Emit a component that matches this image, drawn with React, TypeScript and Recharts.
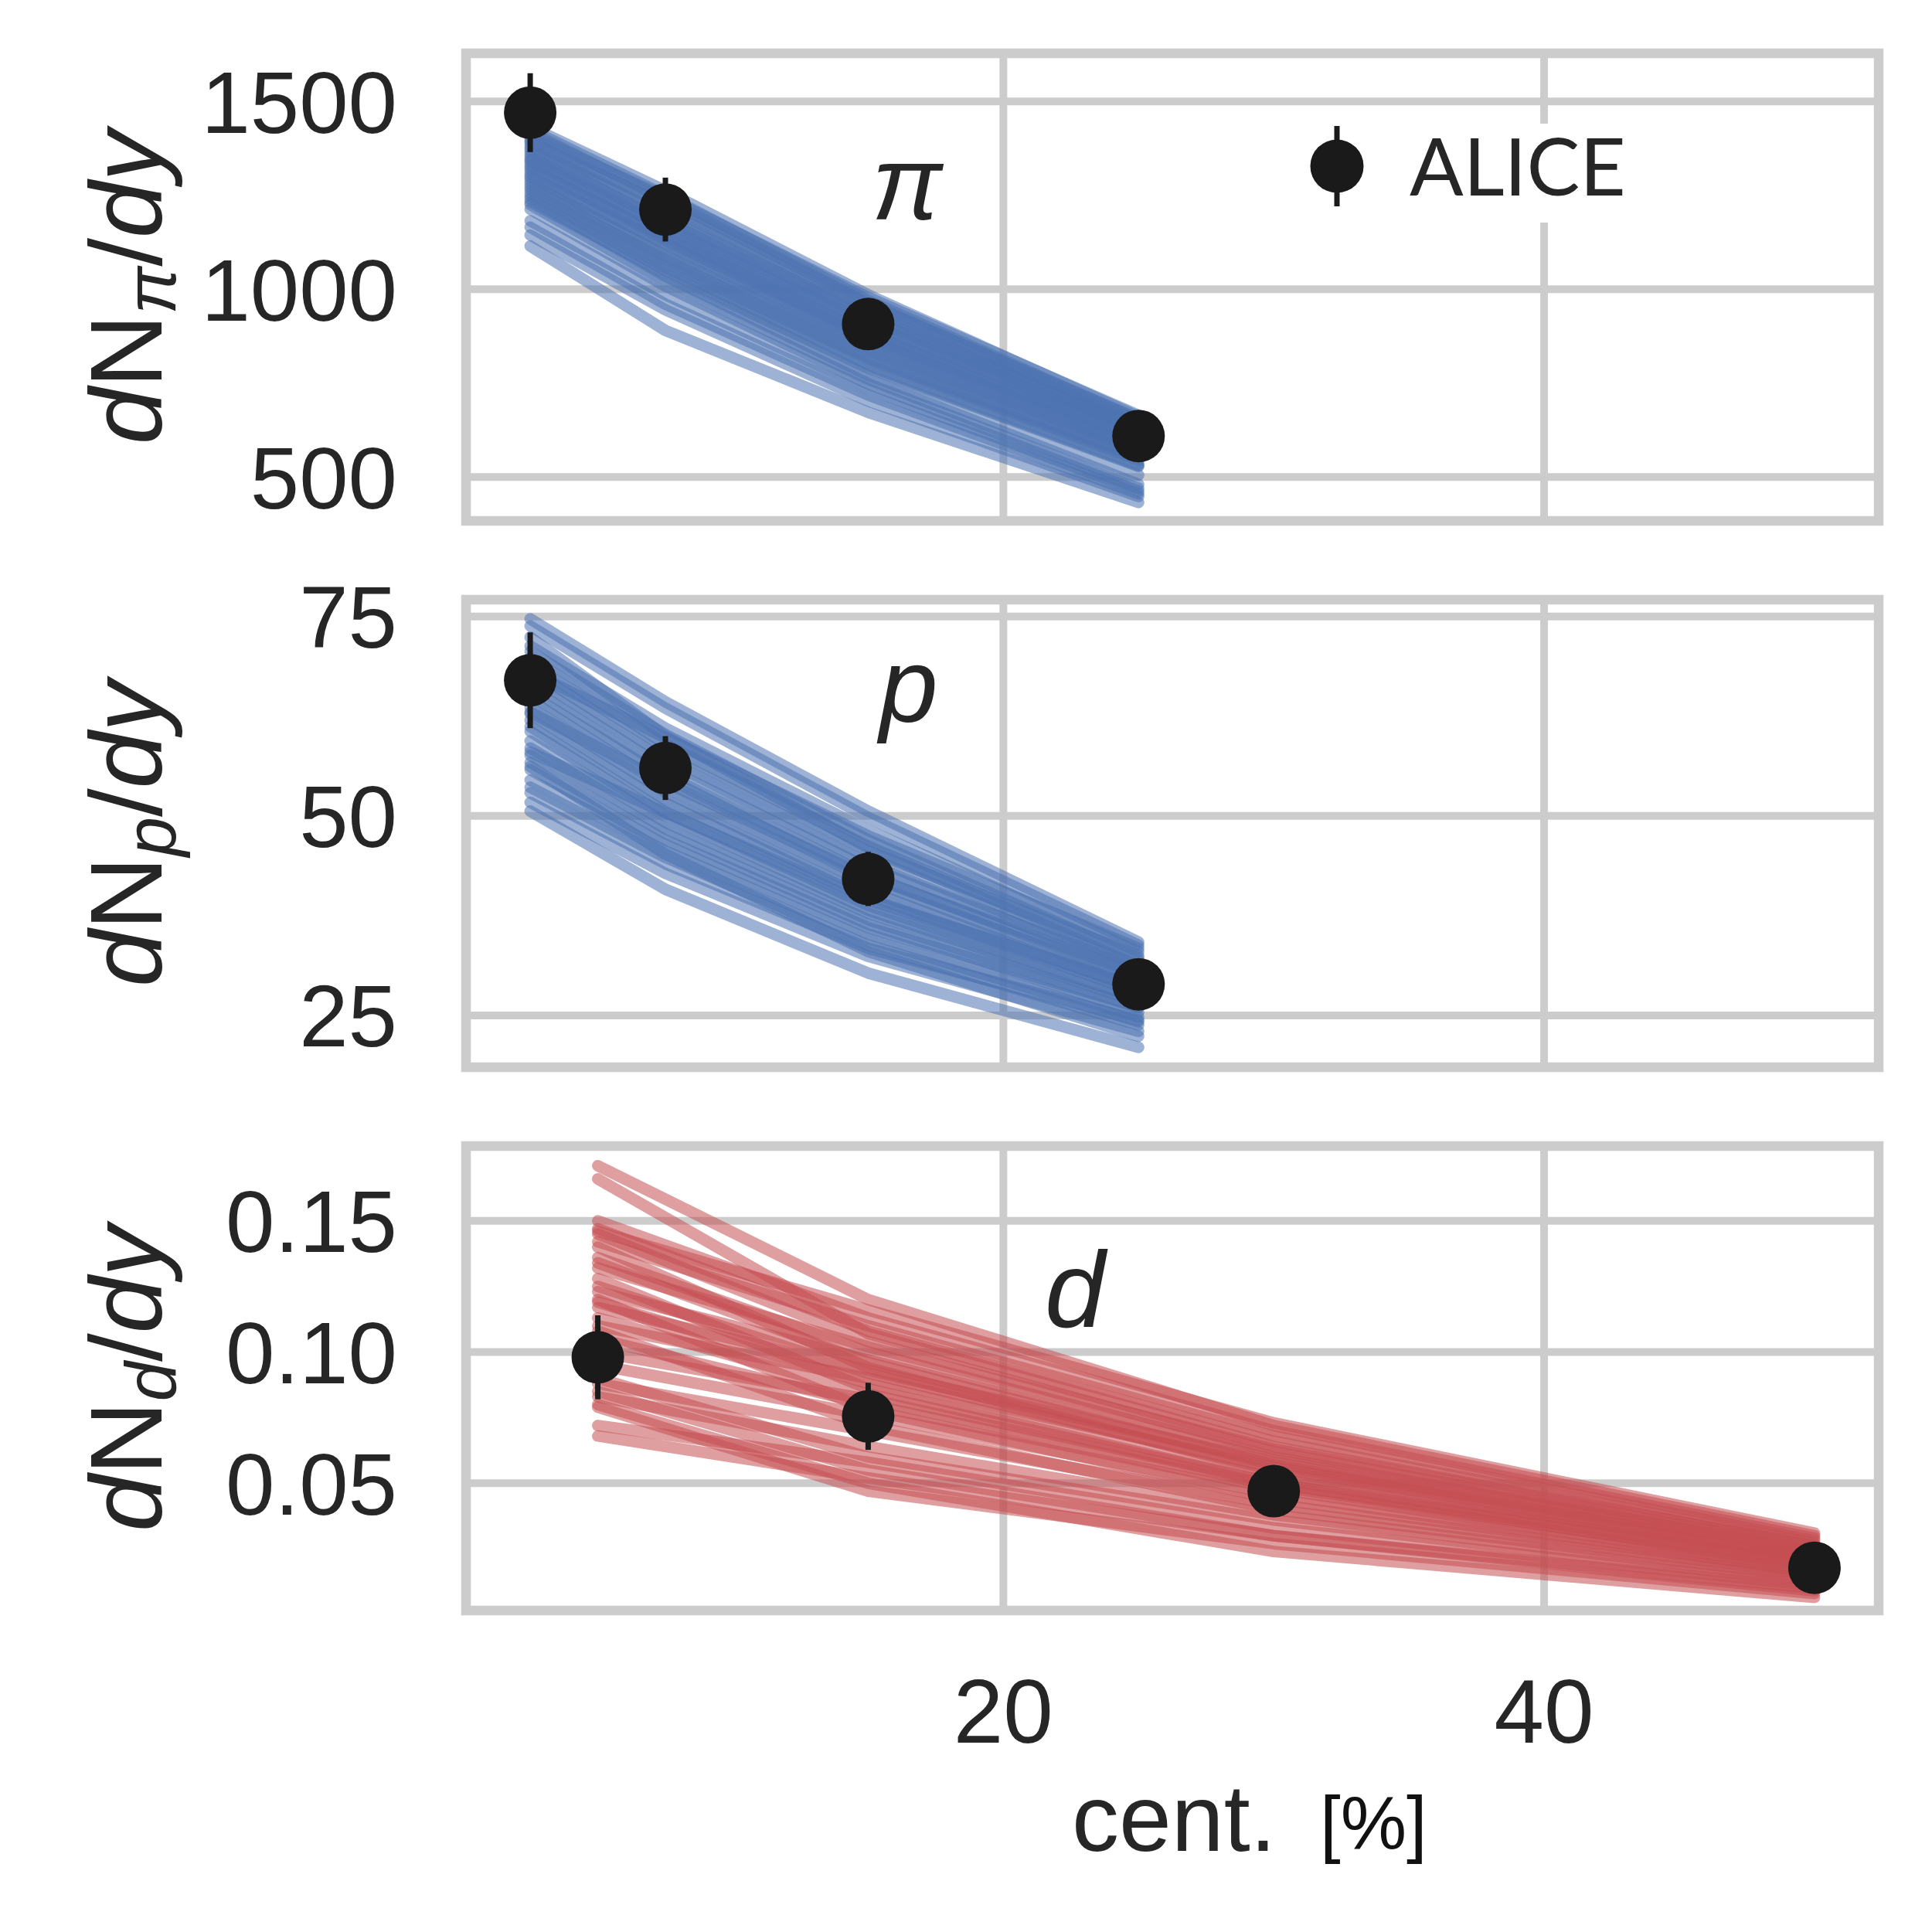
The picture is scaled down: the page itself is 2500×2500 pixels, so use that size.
import React from 'react';
import { CartesianGrid, ComposedChart, ErrorBar, Line, ReferenceArea, XAxis, YAxis } from 'recharts';

// centrality bins (x) and ALICE yields
const PI_CENT = [2.5, 7.5, 15, 25];
const PI_ALICE = [1470, 1212, 907, 609];
const PI_ALICE_ERR = [105, 85, 40, 30];

const P_CENT = [2.5, 7.5, 15, 25];
const P_ALICE = [67.0, 56.0, 42.1, 28.9];
const P_ALICE_ERR = [6.0, 4.0, 3.4, 2.0];

const D_CENT = [5, 15, 30, 50];
const D_ALICE = [0.098, 0.0755, 0.047, 0.0178];
const D_ALICE_ERR = [0.016, 0.0128, 0.008, 0.004];

// model samples, one row per curve, values at the centrality bins above
const PI_MODEL = [
  [1432, 1262, 985, 660],
  [1425, 1250, 970, 652],
  [1418, 1238, 962, 648],
  [1410, 1245, 978, 664],
  [1402, 1222, 948, 640],
  [1395, 1210, 940, 632],
  [1390, 1228, 958, 655],
  [1382, 1195, 925, 624],
  [1375, 1188, 930, 630],
  [1368, 1175, 910, 615],
  [1360, 1180, 922, 628],
  [1352, 1160, 895, 605],
  [1345, 1150, 890, 600],
  [1340, 1165, 905, 618],
  [1332, 1138, 875, 590],
  [1325, 1130, 868, 585],
  [1318, 1142, 882, 598],
  [1310, 1118, 855, 575],
  [1302, 1105, 848, 568],
  [1296, 1122, 862, 580],
  [1288, 1090, 835, 560],
  [1280, 1085, 828, 555],
  [1272, 1070, 815, 545],
  [1265, 1078, 822, 552],
  [1256, 1058, 800, 535],
  [1248, 1050, 795, 530],
  [1240, 1035, 770, 505],
  [1232, 1042, 790, 528],
  [1225, 1020, 760, 480],
  [1213, 1008, 748, 470],
  [1182, 985, 735, 462],
  [1165, 960, 718, 455],
  [1144, 945, 702, 448],
  [1115, 890, 672, 432],
];

const P_MODEL = [
  [74.7, 64.3, 50.6, 34.2],
  [73.8, 63.5, 49.8, 33.8],
  [72.4, 60.0, 46.0, 31.2],
  [71.3, 61.0, 48.2, 33.0],
  [70.6, 60.2, 47.0, 32.2],
  [69.8, 59.0, 46.2, 31.8],
  [69.0, 58.6, 45.6, 32.5],
  [68.3, 57.5, 44.8, 31.0],
  [68.0, 59.8, 47.5, 33.4],
  [67.5, 57.0, 44.0, 30.4],
  [66.8, 56.0, 43.5, 30.8],
  [66.0, 55.2, 42.6, 29.6],
  [65.2, 54.8, 42.0, 29.0],
  [64.5, 53.6, 41.5, 29.4],
  [63.6, 53.0, 40.6, 28.2],
  [63.0, 54.2, 42.4, 30.2],
  [62.8, 52.0, 40.0, 27.8],
  [62.0, 51.6, 39.6, 28.4],
  [61.2, 50.5, 38.8, 27.0],
  [60.6, 50.0, 38.2, 26.6],
  [59.4, 49.2, 37.8, 27.2],
  [58.5, 48.4, 37.0, 26.0],
  [58.0, 50.4, 39.4, 28.6],
  [57.6, 47.8, 36.4, 25.4],
  [56.7, 47.0, 36.0, 26.0],
  [56.2, 45.2, 33.0, 22.4],
  [55.8, 46.4, 35.2, 24.8],
  [54.5, 45.6, 34.6, 24.2],
  [53.6, 44.8, 33.8, 23.8],
  [52.9, 44.0, 33.4, 24.4],
  [51.7, 42.8, 32.4, 23.0],
  [50.6, 40.8, 30.3, 21.0],
];

const D_MODEL = [
  [0.171, 0.12, 0.072, 0.03],
  [0.166, 0.107, 0.064, 0.026],
  [0.15, 0.113, 0.07, 0.029],
  [0.147, 0.108, 0.066, 0.027],
  [0.146, 0.116, 0.073, 0.031],
  [0.145, 0.104, 0.062, 0.025],
  [0.142, 0.11, 0.068, 0.028],
  [0.14, 0.094, 0.054, 0.021],
  [0.136, 0.1, 0.06, 0.024],
  [0.134, 0.096, 0.057, 0.022],
  [0.132, 0.102, 0.063, 0.026],
  [0.128, 0.086, 0.05, 0.02],
  [0.125, 0.092, 0.055, 0.021],
  [0.123, 0.097, 0.059, 0.024],
  [0.12, 0.078, 0.044, 0.016],
  [0.119, 0.088, 0.052, 0.019],
  [0.117, 0.093, 0.058, 0.023],
  [0.113, 0.084, 0.05, 0.018],
  [0.11, 0.09, 0.056, 0.022],
  [0.108, 0.072, 0.04, 0.014],
  [0.105, 0.08, 0.048, 0.017],
  [0.1, 0.082, 0.049, 0.019],
  [0.095, 0.076, 0.046, 0.016],
  [0.09, 0.06, 0.036, 0.012],
  [0.088, 0.07, 0.042, 0.015],
  [0.085, 0.055, 0.03, 0.009],
  [0.083, 0.064, 0.038, 0.013],
  [0.08, 0.05, 0.024, 0.0065],
  [0.079, 0.047, 0.027, 0.008],
  [0.072, 0.058, 0.033, 0.011],
  [0.068, 0.052, 0.03, 0.01],
];

const X_DOMAIN = [0.125, 52.375];
const X_TICKS = [20, 40];

const PI_TICKS = [500, 1000, 1500];
const P_TICKS = [25, 50, 75];
const D_TICKS = [0.05, 0.1, 0.15];

const TEXT = '#262626';
const GRID = '#cccccc';
const DOT = '#1a1a1a';
const SANS = '"Liberation Sans", Arial, sans-serif';

function buildTable(cent: number[], alice: number[], err: number[], model: number[][]) {
  return cent.map((x, i) => {
    const row: Record<string, number> = { x, obs: alice[i], err: err[i] };
    model.forEach((curve, k) => {
      row[`m${k}`] = curve[i];
    });
    return row;
  });
}

interface PanelProps {
  top: number;
  height: number;
  marginTop: number;
  marginBottom: number;
  domain: number[];
  ticks: number[];
  color: string;
  data: Record<string, number>[];
  curves: number;
  showX?: boolean;
  format?: (v: number) => string;
}

function Panel({ top, height, marginTop, marginBottom, domain, ticks, color, data, curves, showX, format }: PanelProps) {
  return (
    <div style={{ position: 'absolute', left: 0, top, width: 2500, height }}>
      <ComposedChart
        width={2500}
        height={height}
        data={data}
        margin={{ top: marginTop, right: 69, bottom: marginBottom, left: 0 }}
      >
        <CartesianGrid
          stroke={GRID}
          strokeWidth={10}
          horizontalValues={ticks}
          verticalValues={X_TICKS}
        />
        <XAxis
          type="number"
          dataKey="x"
          domain={X_DOMAIN}
          allowDataOverflow
          ticks={X_TICKS}
          interval={0}
          hide={!showX}
          height={showX ? 200 : 0}
          axisLine={false}
          tickLine={false}
          tickSize={0}
          tickMargin={89}
          tick={{ fontSize: 116, fill: TEXT, fontFamily: SANS }}
        />
        <YAxis
          type="number"
          domain={domain}
          allowDataOverflow
          ticks={ticks}
          interval={0}
          width={603}
          axisLine={false}
          tickLine={false}
          tickSize={0}
          tickMargin={89}
          tickFormatter={format}
          tick={{ fontSize: 114, fill: TEXT, fontFamily: SANS }}
        />
        {Array.from({ length: curves }, (_, k) => (
          <Line
            key={k}
            type="linear"
            dataKey={`m${k}`}
            stroke={color}
            strokeOpacity={0.55}
            strokeWidth={15}
            strokeLinecap="round"
            strokeLinejoin="round"
            dot={false}
            activeDot={false}
            isAnimationActive={false}
          />
        ))}
        <Line
          type="linear"
          dataKey="obs"
          stroke="none"
          dot={{ r: 34, fill: DOT, stroke: 'none' }}
          activeDot={false}
          isAnimationActive={false}
        >
          <ErrorBar dataKey="err" direction="y" width={0} stroke={DOT} strokeWidth={7} />
        </Line>
        <ReferenceArea
          x1={X_DOMAIN[0]}
          x2={X_DOMAIN[1]}
          y1={domain[0]}
          y2={domain[1]}
          fill="none"
          stroke={GRID}
          strokeWidth={12.5}
          ifOverflow="visible"
        />
      </ComposedChart>
    </div>
  );
}

function YLabel({ cy, sub }: { cy: number; sub: string }) {
  return (
    <text
      x={209}
      y={cy}
      transform={`rotate(-90 209 ${cy})`}
      textAnchor="middle"
      fontFamily={SANS}
      fontSize={132}
      fill={TEXT}
    >
      <tspan fontStyle="italic">d</tspan>
      <tspan>N</tspan>
      <tspan fontStyle="italic" fontSize={92} dy={18}>
        {sub}
      </tspan>
      <tspan dy={-18}>/</tspan>
      <tspan fontStyle="italic">dy</tspan>
    </text>
  );
}

export default function App() {
  const piData = buildTable(PI_CENT, PI_ALICE, PI_ALICE_ERR, PI_MODEL);
  const pData = buildTable(P_CENT, P_ALICE, P_ALICE_ERR, P_MODEL);
  const dData = buildTable(D_CENT, D_ALICE, D_ALICE_ERR, D_MODEL);

  return (
    <div
      style={{
        position: 'absolute',
        left: 0,
        top: 0,
        width: 2500,
        height: 2500,
        background: '#fff',
        overflow: 'hidden',
      }}
    >
      <Panel
        top={0}
        height={700}
        marginTop={69}
        marginBottom={26}
        domain={[383, 1628]}
        ticks={PI_TICKS}
        color="#4c72b0"
        data={piData}
        curves={PI_MODEL.length}
      />
      <Panel
        top={700}
        height={700}
        marginTop={76}
        marginBottom={19}
        domain={[18.5, 77.1]}
        ticks={P_TICKS}
        color="#4c72b0"
        data={pData}
        curves={P_MODEL.length}
      />
      <Panel
        top={1400}
        height={1100}
        marginTop={83}
        marginBottom={216}
        domain={[0.0015, 0.1785]}
        ticks={D_TICKS}
        color="#c44e52"
        data={dData}
        curves={D_MODEL.length}
        showX
        format={(v) => v.toFixed(2)}
      />

      {/* labels, annotations and legend */}
      <svg
        width={2500}
        height={2500}
        style={{ position: 'absolute', left: 0, top: 0, pointerEvents: 'none' }}
      >
        <YLabel cy={372} sub="π" />
        <YLabel cy={1079} sub="p" />
        <YLabel cy={1784} sub="d" />

        <text x={1128} y={284} fontFamily={SANS} fontStyle="italic" fontSize={136} fill={TEXT}>
          π
        </text>
        <text x={1138} y={934} fontFamily={SANS} fontStyle="italic" fontSize={136} fill={TEXT}>
          p
        </text>
        <text x={1352} y={1717} fontFamily={SANS} fontStyle="italic" fontSize={140} fill={TEXT}>
          d
        </text>

        <text x={1387} y={2395} fontFamily={SANS} fontSize={122} fill={TEXT}>
          cent.
        </text>
        <text x={1708} y={2392} fontFamily={SANS} fontSize={96} fill="#111">
          [%]
        </text>

        <rect x={1660} y={160} width={490} height={128} fill="#fff" />
        <line x1={1730} y1={163} x2={1730} y2={267} stroke={DOT} strokeWidth={7} />
        <circle cx={1730} cy={215} r={34.5} fill={DOT} />
        <text x={1824} y={253} fontFamily="Lato, sans-serif" fontSize={103} fill={TEXT}>
          ALICE
        </text>
      </svg>
    </div>
  );
}
